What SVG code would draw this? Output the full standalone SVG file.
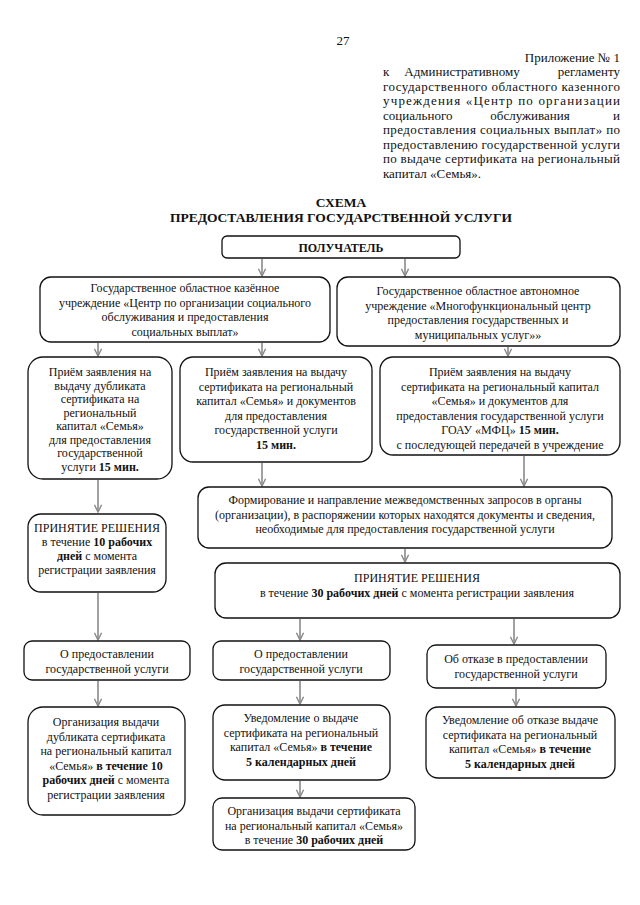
<svg xmlns="http://www.w3.org/2000/svg" width="640" height="905" viewBox="0 0 640 905">
<style>
text{font-family:"Liberation Serif","Times New Roman",serif;fill:#111}
.h{font-size:13px}
.t{font-size:12px;text-anchor:middle}
.b{font-weight:bold}
.ttl{font-size:13.5px;font-weight:bold;text-anchor:middle}
.box{fill:#fff;stroke:#111;stroke-width:1.3}
.ar{stroke:#8a8a8a;stroke-width:1.6;fill:none;marker-end:url(#ah)}
</style>
<defs>
<marker id="ah" viewBox="0 0 10 10" refX="9" refY="5" markerWidth="9" markerHeight="9" markerUnits="userSpaceOnUse" orient="auto">
<path d="M1,1 L9,5 L1,9" fill="none" stroke="#8a8a8a" stroke-width="1.6"/>
</marker>
</defs>
<rect width="640" height="905" fill="#fff"/>
<text class="h" x="343" y="45" text-anchor="middle">27</text>
<g id="header">
<text class="h" x="620" y="62" text-anchor="end">Приложение № 1</text>
<text class="h" x="383" y="76">к</text>
<text class="h" x="462" y="76" text-anchor="middle">Административному</text>
<text class="h" x="620" y="76" text-anchor="end">регламенту</text>
<text class="h" x="383" y="90.5" textLength="237" lengthAdjust="spacing">государственного областного казенного</text>
<text class="h" x="383" y="105" textLength="237" lengthAdjust="spacing">учреждения «Центр по организации</text>
<text class="h" x="383" y="119.5">социального</text>
<text class="h" x="530" y="119.5" text-anchor="middle">обслуживания</text>
<text class="h" x="620" y="119.5" text-anchor="end">и</text>
<text class="h" x="383" y="134" textLength="237" lengthAdjust="spacing">предоставления социальных выплат» по</text>
<text class="h" x="383" y="148.5" textLength="237" lengthAdjust="spacing">предоставлению государственной услуги</text>
<text class="h" x="383" y="163" textLength="237" lengthAdjust="spacing">по выдаче сертификата на региональный</text>
<text class="h" x="383" y="177.5">капитал «Семья».</text>
</g>
<g id="title">
<text class="ttl" x="341" y="207">СХЕМА</text>
<text class="ttl" x="341" y="222">ПРЕДОСТАВЛЕНИЯ ГОСУДАРСТВЕННОЙ УСЛУГИ</text>
</g>
<g id="connectors">
<line class="ar" x1="262" y1="259" x2="262" y2="276"/>
<line class="ar" x1="405" y1="259" x2="405" y2="276"/>
<line class="ar" x1="98" y1="343" x2="98" y2="356"/>
<line class="ar" x1="262" y1="343" x2="262" y2="356"/>
<line class="ar" x1="508" y1="347" x2="508" y2="356"/>
<line class="ar" x1="98" y1="480" x2="98" y2="512"/>
<line class="ar" x1="262" y1="463" x2="262" y2="486"/>
<line class="ar" x1="524" y1="456" x2="524" y2="486"/>
<line class="ar" x1="405" y1="549" x2="405" y2="562"/>
<line class="ar" x1="98" y1="593" x2="98" y2="640"/>
<line class="ar" x1="300" y1="619" x2="300" y2="640"/>
<line class="ar" x1="514" y1="619" x2="514" y2="644"/>
<line class="ar" x1="98" y1="681" x2="98" y2="706"/>
<line class="ar" x1="300" y1="681" x2="300" y2="704"/>
<line class="ar" x1="516" y1="689" x2="516" y2="706"/>
<line class="ar" x1="300" y1="781" x2="300" y2="797"/>
</g>
<g id="n-poluchatel">
<rect class="box" x="222" y="236" width="238" height="22" rx="5"/>
<text class="t b" x="341" y="251.5">ПОЛУЧАТЕЛЬ</text>
</g>
<g id="n-center">
<rect class="box" x="40" y="277" width="290" height="65" rx="11"/>
<text class="t" x="185" y="292">Государственное областное казённое</text>
<text class="t" x="185" y="306.5">учреждение «Центр по организации социального</text>
<text class="t" x="185" y="321">обслуживания и предоставления</text>
<text class="t" x="185" y="335.5">социальных выплат»</text>
</g>
<g id="n-mfc">
<rect class="box" x="337" y="277" width="283" height="69" rx="11"/>
<text class="t" x="478" y="295">Государственное областное автономное</text>
<text class="t" x="478" y="309.5">учреждение «Многофункциональный центр</text>
<text class="t" x="478" y="324">предоставления государственных и</text>
<text class="t" x="478" y="338.5">муниципальных услуг»»</text>
</g>
<g id="n-priem-dubl">
<rect class="box" x="28" y="357" width="144" height="122" rx="15"/>
<text class="t" x="100" y="376">Приём заявления на</text>
<text class="t" x="100" y="389.5">выдачу дубликата</text>
<text class="t" x="100" y="403">сертификата на</text>
<text class="t" x="100" y="416.5">региональный</text>
<text class="t" x="100" y="430">капитал «Семья»</text>
<text class="t" x="100" y="443.5">для предоставления</text>
<text class="t" x="100" y="457">государственной</text>
<text class="t" x="100" y="470.5">услуги <tspan class="b">15 мин.</tspan></text>
</g>
<g id="n-priem">
<rect class="box" x="180" y="357" width="192" height="105" rx="13"/>
<text class="t" x="276" y="376">Приём заявления на выдачу</text>
<text class="t" x="276" y="390.5">сертификата на региональный</text>
<text class="t" x="276" y="405">капитал «Семья»  и документов</text>
<text class="t" x="276" y="419.5">для предоставления</text>
<text class="t" x="276" y="434">государственной услуги</text>
<text class="t b" x="276" y="448.5">15 мин.</text>
</g>
<g id="n-priem-mfc">
<rect class="box" x="380" y="357" width="240" height="98" rx="13"/>
<text class="t" x="500" y="376">Приём заявления на выдачу</text>
<text class="t" x="500" y="390.5">сертификата на региональный капитал</text>
<text class="t" x="500" y="405">«Семья»  и документов для</text>
<text class="t" x="500" y="419.5">предоставления государственной услуги</text>
<text class="t" x="500" y="434">ГОАУ «МФЦ» <tspan class="b">15 мин.</tspan></text>
<text class="t" x="500" y="448.5">с последующей передачей в учреждение</text>
</g>
<g id="n-zaprosy">
<rect class="box" x="198" y="487" width="414" height="61" rx="11"/>
<text class="t" x="405" y="504">Формирование и направление межведомственных запросов в органы</text>
<text class="t" x="405" y="518.5">(организации), в распоряжении которых находятся документы и сведения,</text>
<text class="t" x="405" y="533">необходимые для предоставления государственной услуги</text>
</g>
<g id="n-reshenie-10">
<rect class="box" x="28" y="514" width="138" height="78" rx="13"/>
<text class="t" x="97" y="532">ПРИНЯТИЕ РЕШЕНИЯ</text>
<text class="t" x="97" y="546">в течение <tspan class="b">10 рабочих</tspan></text>
<text class="t" x="97" y="560"><tspan class="b">дней</tspan> с момента</text>
<text class="t" x="97" y="574">регистрации заявления</text>
</g>
<g id="n-reshenie-30">
<rect class="box" x="215" y="563" width="405" height="55" rx="11"/>
<text class="t" x="417" y="582">ПРИНЯТИЕ РЕШЕНИЯ</text>
<text class="t" x="417" y="597">в течение <tspan class="b">30 рабочих дней</tspan> с момента регистрации заявления</text>
</g>
<g id="n-predost-1">
<rect class="box" x="24" y="641" width="166" height="39" rx="8"/>
<text class="t" x="107" y="658">О предоставлении</text>
<text class="t" x="107" y="673">государственной услуги</text>
</g>
<g id="n-predost-2">
<rect class="box" x="213" y="641" width="177" height="39" rx="8"/>
<text class="t" x="301" y="658">О предоставлении</text>
<text class="t" x="301" y="673">государственной услуги</text>
</g>
<g id="n-otkaz">
<rect class="box" x="427" y="645" width="179" height="43" rx="9"/>
<text class="t" x="516" y="663">Об отказе в предоставлении</text>
<text class="t" x="516" y="678">государственной услуги</text>
</g>
<g id="n-vydacha-dubl">
<rect class="box" x="28" y="707" width="157" height="108" rx="15"/>
<text class="t" x="106" y="726">Организация выдачи</text>
<text class="t" x="106" y="740.5">дубликата сертификата</text>
<text class="t" x="106" y="755">на региональный капитал</text>
<text class="t" x="106" y="769.5">«Семья» <tspan class="b">в течение 10</tspan></text>
<text class="t" x="106" y="784"><tspan class="b">рабочих дней</tspan> с момента</text>
<text class="t" x="106" y="798.5">регистрации заявления</text>
</g>
<g id="n-uved-vydacha">
<rect class="box" x="213" y="705" width="177" height="75" rx="12"/>
<text class="t" x="301" y="722">Уведомление о выдаче</text>
<text class="t" x="301" y="736.5">сертификата на региональный</text>
<text class="t" x="301" y="751">капитал «Семья» <tspan class="b">в течение</tspan></text>
<text class="t b" x="301" y="765.5">5 календарных дней</text>
</g>
<g id="n-uved-otkaz">
<rect class="box" x="426" y="707" width="189" height="71" rx="12"/>
<text class="t" x="520" y="724">Уведомление об отказе  выдаче</text>
<text class="t" x="520" y="738.5">сертификата на региональный</text>
<text class="t" x="520" y="753">капитал «Семья» <tspan class="b">в течение</tspan></text>
<text class="t b" x="520" y="767.5">5 календарных дней</text>
</g>
<g id="n-vydacha">
<rect class="box" x="213" y="798" width="202" height="52" rx="9"/>
<text class="t" x="314" y="815">Организация выдачи сертификата</text>
<text class="t" x="314" y="829.5">на региональный капитал «Семья»</text>
<text class="t" x="314" y="844">в течение <tspan class="b">30 рабочих дней</tspan></text>
</g>
</svg>
